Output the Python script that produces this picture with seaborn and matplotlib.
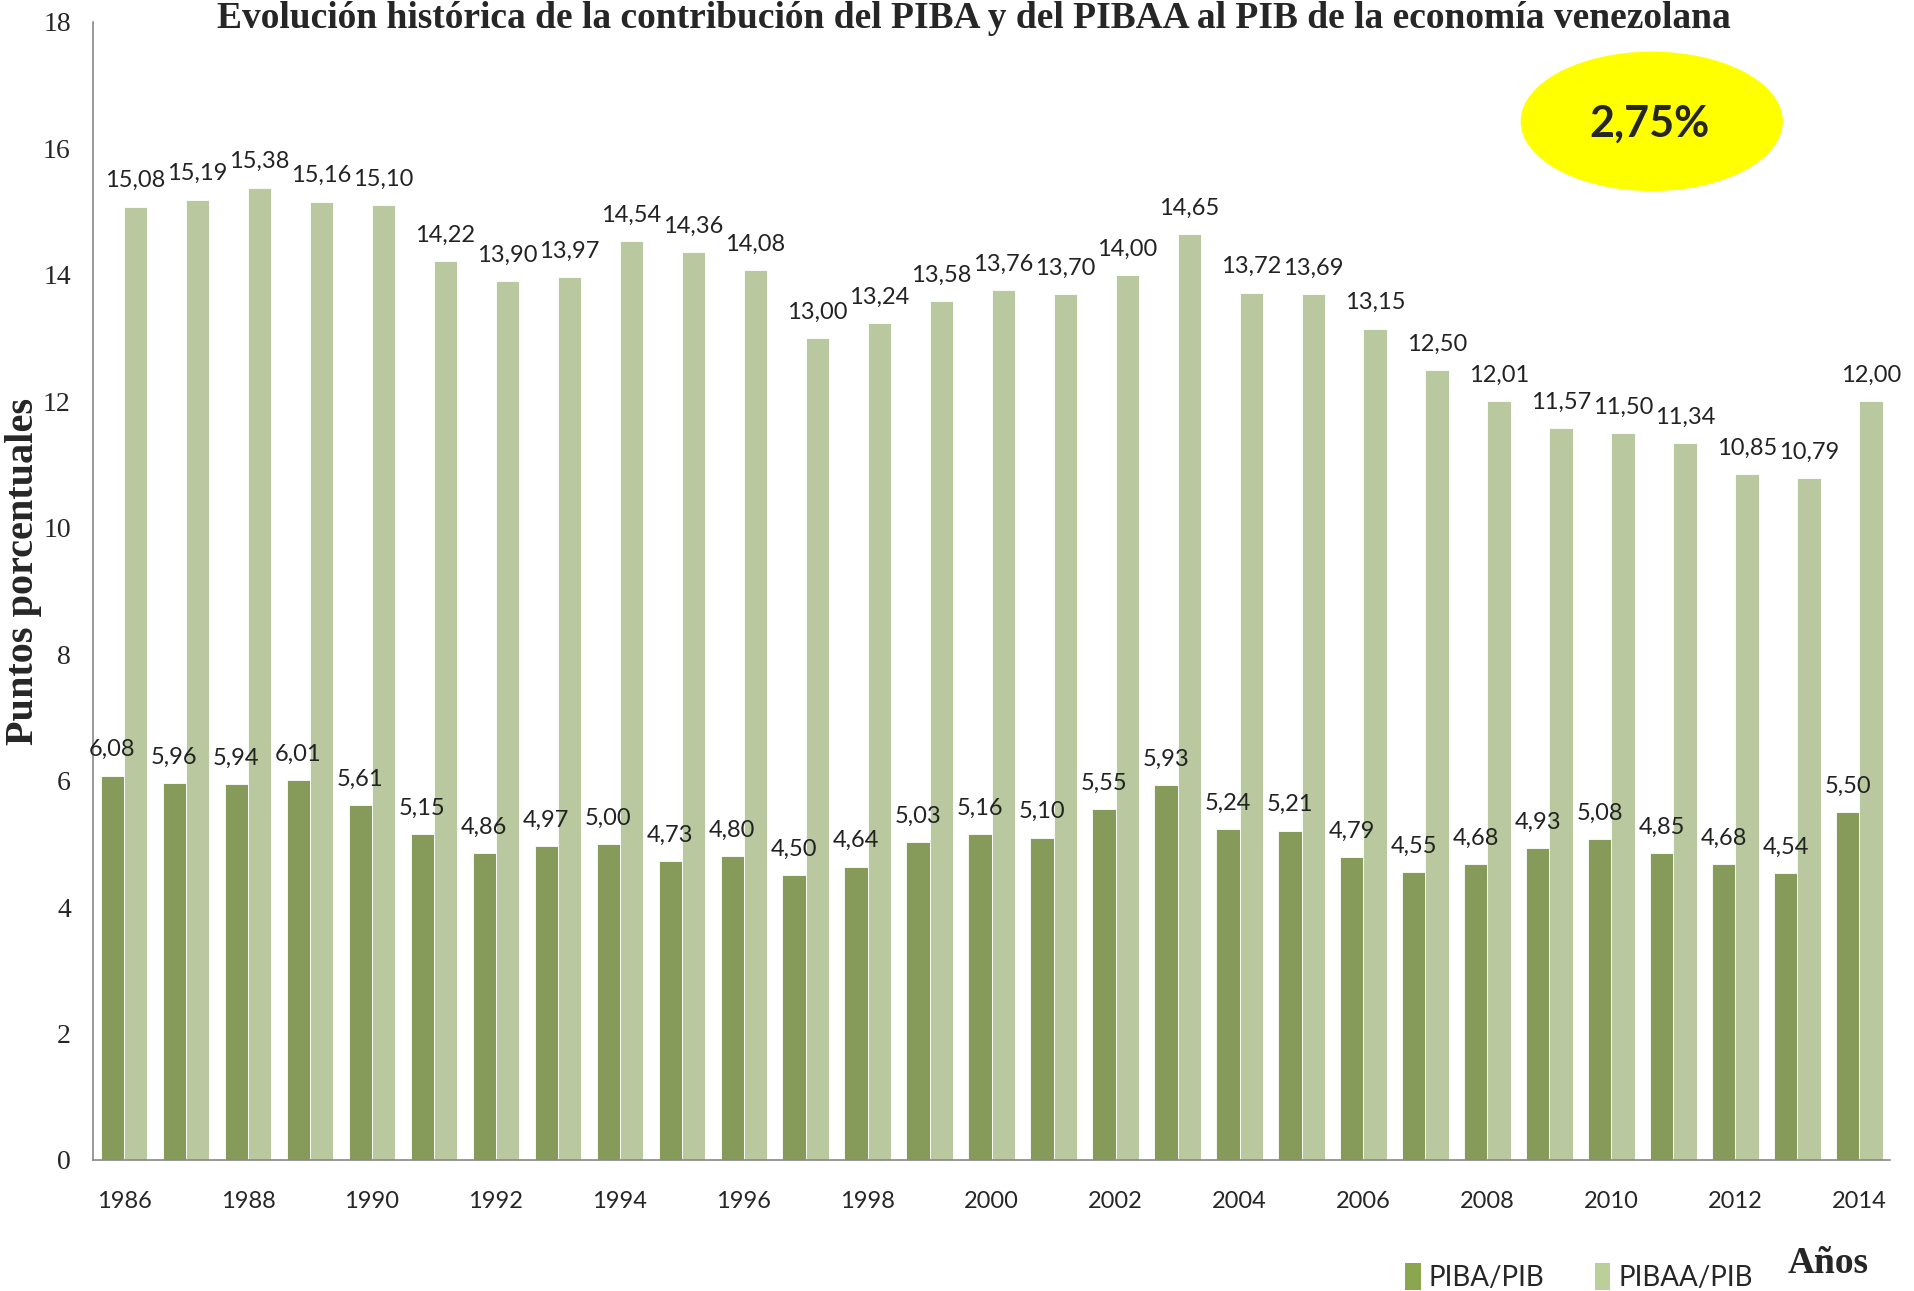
import matplotlib
matplotlib.use("Agg")
import matplotlib.pyplot as plt
from matplotlib.patches import Ellipse, Patch
import seaborn as sns
import pandas as pd

# Datos
years = list(range(1986, 2015))
piba = [6.08, 5.96, 5.94, 6.01, 5.61, 5.15, 4.86, 4.97, 5.00, 4.73, 4.80, 4.50, 4.64, 5.03, 5.16,
        5.10, 5.55, 5.93, 5.24, 5.21, 4.79, 4.55, 4.68, 4.93, 5.08, 4.85, 4.68, 4.54, 5.50]
pibaa = [15.08, 15.19, 15.38, 15.16, 15.10, 14.22, 13.90, 13.97, 14.54, 14.36, 14.08, 13.00, 13.24, 13.58, 13.76,
         13.70, 14.00, 14.65, 13.72, 13.69, 13.15, 12.50, 12.01, 11.57, 11.50, 11.34, 10.85, 10.79, 12.00]
series = ["PIBA/PIB", "PIBAA/PIB"]
colors = ["#8AA64F", "#BBCF98"]
yticks = list(range(0, 19, 2))

df = pd.DataFrame({
    "year": [str(y) for y in years] * 2,
    "valor": piba + pibaa,
    "serie": [series[0]] * len(years) + [series[1]] * len(years),
})

sns.set_style("white")
plt.rcParams['font.family'] = ['Lato', 'DejaVu Sans']

fig = plt.figure(figsize=(19.14, 12.91), dpi=100)
ax = fig.add_axes([0.0486, 0.1015, 0.939, 0.8815])

sns.barplot(data=df, x="year", y="valor", hue="serie", palette=colors, width=0.75,
            edgecolor="white", linewidth=0.6, legend=False, ax=ax)

for cont in ax.containers:
    ax.bar_label(cont, labels=[f"{b.get_height():.2f}".replace(".", ",") for b in cont],
                 padding=11, fontsize=17, color="#222222")

ax.set_ylim(0, 18)
ax.set_xlim(-0.5, len(years) - 0.5)
ax.set_yticks(yticks)
ax.set_yticklabels([str(t) for t in yticks], fontfamily="Liberation Serif", fontsize=20)
ax.set_xticks(range(0, len(years), 2))
ax.set_xticklabels([str(y) for y in years[::2]], fontsize=17)
ax.tick_params(axis="y", length=0, pad=16)
ax.tick_params(axis="x", length=0, pad=22)
ax.set_xlabel("")
ax.set_ylabel("")

for s in ["top", "right"]:
    ax.spines[s].set_visible(False)
for s in ["left", "bottom"]:
    ax.spines[s].set_color("#888888")
    ax.spines[s].set_linewidth(1.2)

fig.text(0.0125, 0.557, "Puntos porcentuales", rotation=90, ha="center", va="center",
         fontfamily="Liberation Serif", fontweight="bold", fontsize=29)

fig.text(0.509, 0.999, "Evolución histórica de la contribución del PIBA y del PIBAA al PIB de la economía venezolana",
         ha="center", va="top", fontfamily="Liberation Serif", fontweight="bold", fontsize=27)

# Elipse amarilla
fig.patches.append(Ellipse((0.863, 0.906), 0.137, 0.108, transform=fig.transFigure,
                           facecolor="#FFFF00", edgecolor="none"))
fig.text(0.862, 0.904, "2,75%", ha="center", va="center", fontsize=31, fontweight="bold")

handles = [Patch(facecolor=c, edgecolor="none") for c in colors]
fig.legend(handles, series, loc="center", bbox_to_anchor=(0.825, 0.011), ncol=2, frameon=False,
           fontsize=20, handlelength=0.55, handleheight=1.1, handletextpad=0.3, columnspacing=1.8)

fig.text(0.955, 0.021, "Años", ha="center", va="center", fontfamily="Liberation Serif",
         fontweight="bold", fontsize=27)

fig.savefig("out.png", dpi=100)
